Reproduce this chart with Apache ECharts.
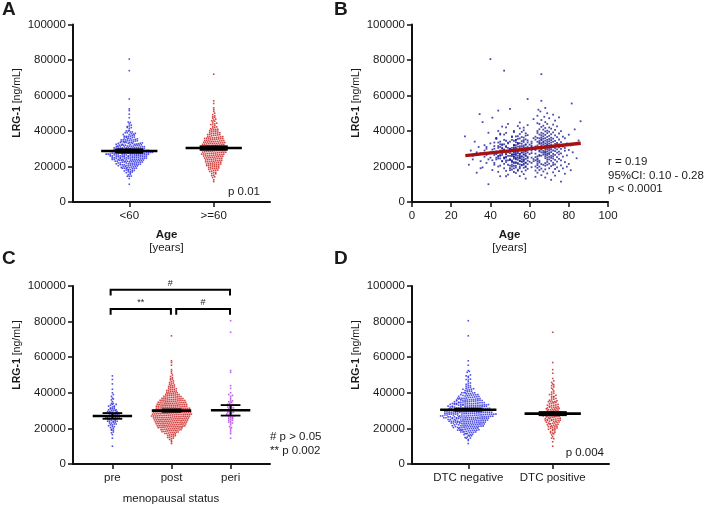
<!DOCTYPE html>
<html>
<head>
<meta charset="utf-8">
<script src="https://cdn.jsdelivr.net/npm/echarts@6/dist/echarts.min.js"></script>
<style>html,body{margin:0;padding:0;background:#fff}#chart{width:708px;height:505px}</style>
</head>
<body>
<div id="chart"></div>
<script>
// one row per patient: [age (years), LRG-1 (ng/mL), DTC (1 = positive)]
var preMeno = [
  [39,10000,1],[45,14500,0],[33,16500,0],[48,17500,1],[41,18000,0],[52,19000,0],[36,19500,1],[44,20000,0],[50,20500,0],[29,21000,1],
  [47,21500,0],[42,22000,0],[38,22000,1],[51,22500,0],[46,23000,0],[35,23000,0],[49,23500,1],[43,24000,0],[31,24000,0],[53,24500,1],
  [40,25000,0],[47,25000,0],[37,25500,1],[44,25500,0],[50,26000,0],[28,26000,0],[45,26500,1],[42,26500,0],[48,27000,0],[36,27000,0],
  [51,27000,1],[39,27500,0],[46,27500,0],[33,28000,0],[49,28000,1],[43,28500,0],[52,28500,0],[30,29000,0],[45,29000,1],[41,29500,0],
  [47,29500,0],[38,30000,0],[50,30000,1],[44,30500,0],[34,31000,0],[48,31000,0],[42,31500,1],[53,32000,0],[37,32000,0],[46,32500,0],
  [40,33000,1],[49,33500,0],[32,34000,0],[45,34000,0],[51,35000,1],[43,36000,0],[27,37000,0],[47,38000,0],[39,39000,1],[44,40000,0],
  [48,42000,0],[36,45000,1],[41,47500,0],[34.5,49500,0],[52,30000,0],[46,28500,1],[38,26500,0],[50,24000,0],[42,21000,1],[35,19000,0],
  [44,26000,0],[40,28000,0],[47,24500,1],[35,27500,0],[50,29500,0],[43,25000,0],[38,31000,1],[46,26500,0],[41,23500,0],[49,30500,0],
  [33,27000,1],[45,32500,0],[52,25500,0],[37,29000,0],[48,22500,1],[42,33500,0],[31,26000,0],[47,28500,0],[39,24000,1],[51,36500,0]
];
var periMeno = [
  [40,80500,0],[47,74000,1],[50,52500,0],[44,51500,0],[49,44000,1],[46,42500,0],[52,40000,0],[48,39000,0],[45,38000,1],[51,37000,0],
  [43,36000,0],[53,35000,0],[47,35000,1],[50,34000,0],[44,33500,0],[49,33000,0],[46,32000,1],[52,32000,0],[48,31500,0],[45,31000,0],
  [51,30500,1],[42,30000,0],[47,29500,0],[54,29000,0],[49,28500,1],[46,28000,0],[50,27500,0],[43,27000,0],[48,27000,1],[52,26500,0],
  [45,26000,0],[55,25500,0],[47,25000,1],[44,24500,0],[50,24000,0],[48,23500,0],[46,23000,1],[53,22000,0],[49,21000,0],[45,20500,0],
  [51,20000,1],[47,19000,0],[50,18000,0],[44,17000,0],[48,14500,1],
  [46,30000,0],[49,26000,1],[44,31500,0],[52,28500,0],[48,34500,0],[45,24500,1],[50,29000,0],[47,32500,0],[53,27000,1],[43,35500,0],
  [51,23000,0],[46,30500,0],[48,25500,1],[54,33000,0],[45,38500,0]
];
var postMeno = [
  [76,11500,0],[71,12500,1],[58,13200,0],[68,13800,0],[63,14200,1],[55,14600,0],[73,14900,0],
  [66,15100,0],[49,15400,1],[57,15700,0],[78,15900,0],[69,16100,0],[53,16300,1],[64,16500,0],[72,16700,0],[52,16900,1],
  [56,17100,0],[67,17200,0],[75,17400,1],[54,17600,0],[63,17700,0],[58,17800,0],[81,17900,1],
  [65,18000,0],[54,18200,0],[51,18300,1],[68,18400,0],[73,18600,0],[59,18700,0],[66,18800,1],[77,18900,0],[55,18950,0],
  [70,19000,0],[50,19100,1],[64,19200,0],[57,19300,0],[53,19400,0],[74,19500,1],[61,19600,0],[58,19700,0],[55,19800,0],[79,19900,1],[65,19950,0],
  [63,20000,0],[58,20100,0],[71,20200,1],[52,20300,0],[53,20400,0],[68,20500,0],[76,20600,1],[56,20700,0],[64,20800,0],[72,20850,0],[56,20900,1],[67,20950,0],[57,20990,0],
  [69,21000,0],[51,21100,0],[55,21150,1],[73,21200,0],[59,21300,0],[66,21400,0],[80,21450,1],[54,21500,0],[70,21600,0],[57,21700,0],[64,21750,1],[52,21800,0],[68,21900,0],[54,21950,0],
  [61,22000,1],[58,22050,0],[72,22100,0],[58,22200,0],[65,22300,1],[53,22400,0],[78,22450,0],[52,22500,0],[69,22600,1],[56,22650,0],[60,22700,0],[74,22800,0],[56,22850,1],[64,22900,0],[57,22950,0],
  [62,23000,0],[55,23050,1],[55,23100,0],[71,23200,0],[65,23250,0],[59,23300,1],[51,23400,0],[76,23450,0],[63,23500,0],[50,23600,1],[57,23650,0],[73,23700,0],[54,23800,0],[69,23850,1],[57,23900,0],[64,23950,0],
  [70,24000,0],[53,24050,0],[56,24100,1],[62,24200,0],[75,24250,0],[58,24300,0],[52,24400,1],[64,24450,0],[72,24500,0],[55,24600,0],[84,24650,1],[55,24700,0],[68,24750,0],[59,24800,0],[71,24850,1],[54,24900,0],[48,24950,0],
  [61,25000,0],[69,25050,1],[57,25100,0],[53,25200,0],[74,25250,0],[63,25300,1],[52,25400,0],[70,25450,0],[59,25500,0],[56,25550,1],[77,25600,0],[64,25700,0],[56,25750,0],[72,25800,1],[51,25850,0],[68,25900,0],[58,25950,0],[65,25980,1],
  [71,26000,0],[54,26050,0],[66,26100,0],[55,26200,1],[79,26250,0],[58,26300,0],[69,26400,0],[53,26450,1],[73,26500,0],[65,26550,0],[51,26600,0],[67,26700,1],[57,26750,0],[75,26800,0],[57,26850,0],[70,26900,1],[52,26950,0],[68,26980,0],
  [60,27000,0],[55,27050,1],[72,27100,0],[55,27200,0],[63,27250,0],[69,27300,1],[58,27400,0],[76,27450,0],[54,27500,0],[61,27550,1],[70,27600,0],[53,27700,0],[67,27750,0],[56,27800,1],[74,27850,0],[59,27900,0],[68,27950,0],[52,27980,1],[82,27990,0],
  [66,28000,0],[56,28050,0],[71,28100,1],[57,28200,0],[68,28250,0],[54,28300,0],[75,28400,1],[65,28450,0],[52,28500,0],[69,28550,0],[58,28600,1],[73,28700,0],[58,28750,0],[67,28800,0],[53,28850,1],[78,28900,0],[61,28950,0],[70,28970,0],[55,28990,1],
  [65,29000,0],[72,29050,0],[59,29100,1],[54,29200,0],[63,29250,0],[80,29300,0],[68,29400,1],[54,29450,0],[66,29500,0],[71,29550,0],[57,29600,1],[74,29700,0],[57,29750,0],[69,29800,0],[56,29850,1],[62,29900,0],[76,29950,0],[50,29970,0],[66,29990,1],
  [70,30000,0],[60,30050,0],[53,30100,1],[73,30200,0],[56,30250,0],[65,30300,0],[55,30400,1],[78,30450,0],[68,30500,0],[58,30550,0],[71,30600,1],[52,30700,0],[66,30750,0],[53,30800,0],[75,30850,1],[64,30900,0],[57,30950,0],[61,30980,0],
  [67,31000,1],[72,31050,0],[59,31100,0],[54,31200,0],[77,31250,1],[63,31300,0],[55,31400,0],[70,31450,0],[56,31500,1],[61,31600,0],[74,31650,0],[68,31700,0],[57,31800,1],[64,31850,0],[81,31900,0],[52,31950,0],[69,31980,1],
  [66,32000,0],[52,32050,0],[71,32100,1],[58,32200,0],[60,32300,0],[75,32400,0],[67,32450,1],[58,32500,0],[69,32600,0],[54,32650,0],[73,32700,1],[65,32800,0],[56,32850,0],[70,32900,0],[61,32950,1],[79,32980,0],
  [68,33000,0],[55,33100,0],[66,33200,1],[74,33250,0],[54,33300,0],[65,33400,0],[71,33500,1],[59,33550,0],[67,33600,0],[53,33700,0],[76,33750,1],[69,33800,0],[57,33850,0],[64,33900,0],[72,33950,1],
  [61,34000,0],[67,34100,0],[70,34200,0],[56,34300,1],[65,34400,0],[73,34450,0],[52,34500,0],[68,34600,1],[85,34650,0],[59,34700,0],[66,34800,0],[71,34850,1],[57,34900,0],[53,34950,0],
  [69,35000,0],[63,35100,1],[75,35200,0],[58,35300,0],[66,35400,0],[70,35500,1],[54,35600,0],[67,35650,0],[72,35700,0],[55,35800,1],[65,35850,0],[78,35900,0],[62,35950,0],
  [68,36000,1],[64,36100,0],[71,36200,0],[57,36300,0],[66,36400,1],[74,36500,0],[56,36600,0],[69,36700,0],[63,36800,1],[77,36850,0],[53,36950,0],
  [67,37000,0],[54,37100,1],[70,37300,0],[58,37400,0],[73,37500,0],[66,37600,1],[59,37700,0],[68,37800,0],[80,37900,0],
  [65,38000,1],[71,38200,0],[55,38300,0],[67,38500,0],[75,38600,1],[58,38700,0],[69,38800,0],[64,38900,0],
  [66,39000,0],[72,39200,1],[52,39400,0],[56,39500,0],[70,39600,0],[68,39800,1],[76,39900,0],
  [64,40000,0],[69,40200,0],[57,40400,1],[73,40600,0],[67,40800,0],[83,40900,0],
  [65,41000,1],[71,41300,0],[55,41500,0],[68,41700,0],[57,41900,1],
  [70,42000,0],[66,42300,0],[74,42600,1],[54,42800,0],[67,43000,0],[59,43300,1],[72,43600,0],[65,43900,0],
  [69,44000,0],[64,44400,1],[55,44800,0],[68,45000,0],[86,45500,0],[73,45800,1],[66,46200,0],[62,46700,1],
  [70,47200,0],[75,47700,0],[67.5,48000,1],[64,48600,0],[72,49200,0],[69,50000,0],[65.5,51000,1],[64.5,52000,0],
  [68,53000,1],[81.5,55500,0],[66,57000,1],[59,58000,0],[66,72000,0]
];

// group labels and summary lines (mean with 95% CI)
var ageGroups = ['<60', '>=60'];
var ageMean = [28700, 30400];
var ageLo = [27700, 29400];
var ageHi = [29700, 31400];

var menoGroups = ['pre', 'post', 'peri'];
var menoMean = [27000, 30000, 30200];
var menoLo = [25400, 29300, 27200];
var menoHi = [28600, 30700, 33100];

var dtcGroups = ['DTC negative', 'DTC positive'];
var dtcMean = [30500, 28300];
var dtcLo = [29900, 27400];
var dtcHi = [31100, 29200];

// linear regression of LRG-1 on age (panel B), end points
var regAge = [27.2, 86.1];
var regLrg = [26100, 33100];

// pairwise comparisons in panel C: [from, to, mark]
var menoTests = [[0, 2, '#'], [0, 1, '**'], [1, 2, '#']];

var FONT = "'Liberation Sans', Arial, sans-serif";
var BLUE = '#2424e0', RED = '#c81818', VIOLET = '#b43ce6', NAVY = '#1c1c96';

var allPts = preMeno.concat(periMeno, postMeno);
function lrg(list) { return list.map(function (p) { return p[1]; }); }

// scatter dot plot layout: values binned in rows, spread sideways around the group centre
function swarm(values, centre, stepUnits) {
  var rows = {};
  values.forEach(function (v) {
    var k = Math.round(v / 1100);
    (rows[k] = rows[k] || []).push(v);
  });
  var out = [];
  Object.keys(rows).forEach(function (k) {
    var r = rows[k];
    r.forEach(function (v, i) {
      out.push([centre + (i - (r.length - 1) / 2) * stepUnits, v]);
    });
  });
  return out;
}

function groupAxis(idx, names) {
  var ticks = names.map(function (n, i) { return i; });
  return {
    type: 'value', gridIndex: idx, min: -2 / 3, max: names.length - 1 + 2 / 3,
    axisLine: { lineStyle: { color: '#111', width: 2 } },
    axisTick: { customValues: ticks, length: 5, lineStyle: { color: '#111', width: 1.5 } },
    axisLabel: { customValues: ticks, margin: 8, color: '#1a1a1a', fontSize: 11.5, fontFamily: FONT,
      formatter: function (v) { return names[Math.round(v)]; } },
    splitLine: { show: false }
  };
}
function lrgAxis(idx) {
  return {
    type: 'value', gridIndex: idx, min: 0, max: 100000, interval: 20000,
    axisLine: { show: true, onZero: false, lineStyle: { color: '#111', width: 2 } },
    axisTick: { show: true, length: 5, lineStyle: { color: '#111', width: 1.5 } },
    axisLabel: { margin: 7, color: '#1a1a1a', fontSize: 11.5, fontFamily: FONT,
      formatter: function (v) { return String(v); } },
    splitLine: { show: false }
  };
}

function swarmSeries(axisIdx, values, centre, step, color) {
  return {
    type: 'scatter', xAxisIndex: axisIdx, yAxisIndex: axisIdx,
    symbol: 'rect', symbolSize: 1.6, itemStyle: { color: color },
    data: swarm(values, centre, step), silent: true
  };
}

function summaryItem(params, api) {
  var x = api.value(0), m = api.value(1), lo = api.value(2), hi = api.value(3);
  var a = api.coord([x - 1 / 3, m]), b = api.coord([x + 1 / 3, m]);
  var t1 = api.coord([x - 1 / 6, hi]), t2 = api.coord([x + 1 / 6, hi]);
  var b1 = api.coord([x - 1 / 6, lo]), b2 = api.coord([x + 1 / 6, lo]);
  var vt = api.coord([x, hi]), vb = api.coord([x, lo]);
  var st = { stroke: '#000', lineWidth: 1.8 };
  return {
    type: 'group', children: [
      { type: 'line', shape: { x1: vt[0], y1: vt[1], x2: vb[0], y2: vb[1] }, style: st },
      { type: 'line', shape: { x1: t1[0], y1: t1[1], x2: t2[0], y2: t2[1] }, style: st },
      { type: 'line', shape: { x1: b1[0], y1: b1[1], x2: b2[0], y2: b2[1] }, style: st },
      { type: 'line', shape: { x1: a[0], y1: a[1], x2: b[0], y2: b[1] }, style: { stroke: '#000', lineWidth: 2.6 } }
    ]
  };
}
function summarySeries(axisIdx, mean, lo, hi) {
  return {
    type: 'custom', xAxisIndex: axisIdx, yAxisIndex: axisIdx, silent: true, z: 5,
    renderItem: summaryItem,
    data: mean.map(function (m, i) { return [i, m, lo[i], hi[i]]; })
  };
}

// px per group step: A and D ~84 px, C ~59 px; dots ~2 px apart
var stepA = 2.0 / 84, stepC = 1.9 / 59.3, stepD = 2.1 / 83.4;

var young = allPts.filter(function (p) { return p[0] < 60; });
var older = allPts.filter(function (p) { return p[0] >= 60; });
var dtcNeg = allPts.filter(function (p) { return p[2] === 0; });
var dtcPos = allPts.filter(function (p) { return p[2] === 1; });

var bracketSeries = {
  type: 'custom', xAxisIndex: 2, yAxisIndex: 2, silent: true,
  renderItem: function (params, api) {
    var from = api.value(0), to = api.value(1), row = api.value(2);
    var level = row === 0 ? 97900 : 87100, leg = 3200;
    var x1 = from - 0.03 + (from > 0 ? 0.11 : 0), x2 = to - 0.01;
    var p1 = api.coord([x1, level - leg]), p2 = api.coord([x1, level]);
    var p3 = api.coord([x2, level]), p4 = api.coord([x2, level - leg]);
    return {
      type: 'group', children: [
        { type: 'polyline', shape: { points: [p1, p2, p3, p4] }, style: { stroke: '#000', lineWidth: 2, fill: null } },
        { type: 'text', x: (p2[0] + p3[0]) / 2, y: p2[1] - 2,
          style: { text: menoTests[params.dataIndex][2], font: '9px ' + FONT, fill: '#222', textAlign: 'center', textVerticalAlign: 'bottom' } }
      ]
    };
  },
  data: menoTests.map(function (t, i) { return [t[0], t[1], i === 0 ? 0 : 1]; })
};

function txt(x, y, s, opt) {
  opt = opt || {};
  return {
    type: 'text', x: x, y: y, rotation: opt.rot || 0,
    style: {
      text: s, rich: opt.rich, fill: '#1a1a1a',
      font: (opt.bold ? 'bold ' : '') + (opt.size || 11.5) + 'px ' + FONT,
      textAlign: opt.align || 'center', textVerticalAlign: 'middle'
    }
  };
}
var yTitleRich = {
  b: { fontWeight: 'bold', fontSize: 10.5, fontFamily: FONT, fill: '#1a1a1a' },
  n: { fontSize: 10.5, fontFamily: FONT, fill: '#1a1a1a' }
};
var yTitle = '{b|LRG-1}{n| [ng/mL]}';

var option = {
  animation: false,
  backgroundColor: '#fff',
  grid: [
    { left: 73, top: 24.5, width: 197, height: 177.5 },
    { left: 412, top: 24.5, width: 196, height: 177.5 },
    { left: 73, top: 286, width: 197, height: 178 },
    { left: 412, top: 286, width: 197, height: 178 }
  ],
  xAxis: [
    groupAxis(0, ageGroups),
    {
      type: 'value', gridIndex: 1, min: 0, max: 100, interval: 20,
      axisLine: { lineStyle: { color: '#111', width: 2 } },
      axisTick: { length: 5, lineStyle: { color: '#111', width: 1.5 } },
      axisLabel: { margin: 8, color: '#1a1a1a', fontSize: 11.5, fontFamily: FONT },
      splitLine: { show: false }
    },
    groupAxis(2, menoGroups),
    groupAxis(3, dtcGroups)
  ],
  yAxis: [lrgAxis(0), lrgAxis(1), lrgAxis(2), lrgAxis(3)],
  series: [
    swarmSeries(0, lrg(young), 0, stepA, BLUE),
    swarmSeries(0, lrg(older), 1, stepA, RED),
    summarySeries(0, ageMean, ageLo, ageHi),

    {
      type: 'scatter', xAxisIndex: 1, yAxisIndex: 1, symbol: 'rect', symbolSize: 1.8,
      itemStyle: { color: NAVY }, silent: true,
      data: allPts.map(function (p) { return [p[0], p[1]]; })
    },
    {
      type: 'line', xAxisIndex: 1, yAxisIndex: 1, symbol: 'none', silent: true, z: 5,
      lineStyle: { color: '#a80f0f', width: 3.4 },
      data: regAge.map(function (a, i) { return [a, regLrg[i]]; })
    },

    swarmSeries(2, lrg(preMeno), 0, stepC, BLUE),
    swarmSeries(2, lrg(postMeno), 1, stepC, RED),
    swarmSeries(2, lrg(periMeno), 2, stepC, VIOLET),
    summarySeries(2, menoMean, menoLo, menoHi),
    bracketSeries,

    swarmSeries(3, lrg(dtcNeg), 0, stepD, BLUE),
    swarmSeries(3, lrg(dtcPos), 1, stepD, RED),
    summarySeries(3, dtcMean, dtcLo, dtcHi)
  ],
  graphic: [
    txt(2, 10, 'A', { bold: true, size: 19, align: 'left' }),
    txt(334, 10, 'B', { bold: true, size: 19, align: 'left' }),
    txt(2, 259, 'C', { bold: true, size: 19, align: 'left' }),
    txt(334, 259, 'D', { bold: true, size: 19, align: 'left' }),

    txt(17, 103, yTitle, { rot: Math.PI / 2, rich: yTitleRich }),
    txt(356, 103, yTitle, { rot: Math.PI / 2, rich: yTitleRich }),
    txt(17, 355, yTitle, { rot: Math.PI / 2, rich: yTitleRich }),
    txt(356, 355, yTitle, { rot: Math.PI / 2, rich: yTitleRich }),

    txt(166.5, 235, 'Age', { bold: true }),
    txt(166.5, 248, '[years]'),
    txt(509.5, 235, 'Age', { bold: true }),
    txt(509.5, 248, '[years]'),
    txt(171, 499, 'menopausal status'),

    txt(260, 192, 'p 0.01', { align: 'right' }),
    txt(608, 162, 'r = 0.19', { align: 'left' }),
    txt(608, 175.5, '95%CI: 0.10 - 0.28', { align: 'left' }),
    txt(608, 189, 'p < 0.0001', { align: 'left' }),
    txt(270, 437, '# p > 0.05', { align: 'left' }),
    txt(270, 451, '** p 0.002', { align: 'left' }),
    txt(604, 453, 'p 0.004', { align: 'right' })
  ]
};

var chart = echarts.init(document.getElementById('chart'));
chart.setOption(option);
</script>
</body>
</html>
